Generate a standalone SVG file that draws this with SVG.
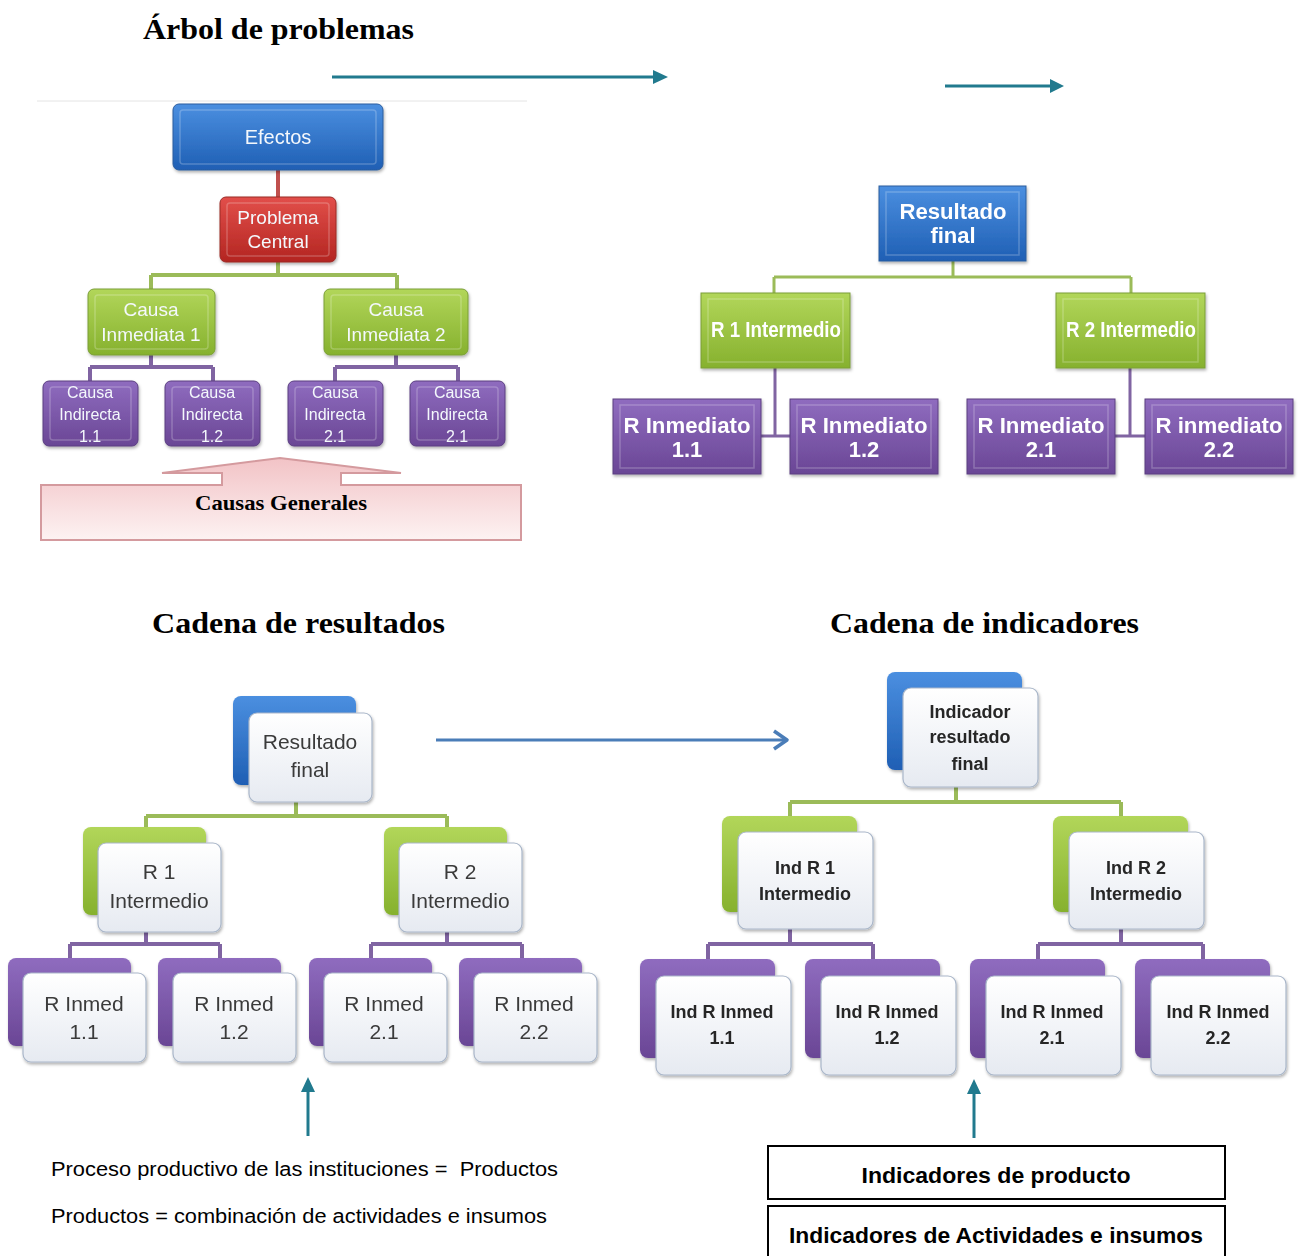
<svg xmlns="http://www.w3.org/2000/svg" width="1299" height="1256" viewBox="0 0 1299 1256">
<style>
.title{font-family:"Liberation Serif","Times New Roman",serif;font-weight:bold;font-size:30px;fill:#000}
.tl{font-family:"Liberation Sans",Arial,sans-serif;fill:#f4f8fc;text-anchor:middle}
.tr{font-family:"Liberation Sans",Arial,sans-serif;font-weight:bold;fill:#ffffff;text-anchor:middle;font-size:22px}
.bl{font-family:"Liberation Sans",Arial,sans-serif;fill:#3a3a3a;text-anchor:middle;font-size:21px}
.br{font-family:"Liberation Sans",Arial,sans-serif;font-weight:bold;fill:#262626;text-anchor:middle;font-size:18px}
.body{font-family:"Liberation Sans",Arial,sans-serif;fill:#000;font-size:20px}
.boxt{font-family:"Liberation Sans",Arial,sans-serif;font-weight:bold;fill:#000;font-size:22px;text-anchor:middle}
.bev{fill:none;stroke:#ffffff;stroke-opacity:0.22;stroke-width:1.5}
.front{fill:url(#gWhite);stroke:#a9b6c9;stroke-width:1.2}
.teal{stroke:#217a8e;stroke-width:3;fill:none}
.conG{stroke:#9bbb59;stroke-width:4;fill:none}
.conP{stroke:#8064a2;stroke-width:4;fill:none}
.conR{stroke:#c0504d;stroke-width:4;fill:none}
</style>
<defs>
<linearGradient id="gBlue" x1="0" y1="0" x2="0" y2="1"><stop offset="0" stop-color="#4b8fe0"/><stop offset="1" stop-color="#1f5fb4"/></linearGradient>
<linearGradient id="gRed" x1="0" y1="0" x2="0" y2="1"><stop offset="0" stop-color="#e24f4a"/><stop offset="1" stop-color="#b32521"/></linearGradient>
<linearGradient id="gGreen" x1="0" y1="0" x2="0" y2="1"><stop offset="0" stop-color="#b2d65a"/><stop offset="1" stop-color="#86b12e"/></linearGradient>
<linearGradient id="gPurple" x1="0" y1="0" x2="0" y2="1"><stop offset="0" stop-color="#8f6cbf"/><stop offset="1" stop-color="#6a4695"/></linearGradient>
<linearGradient id="gPink" x1="0" y1="0" x2="0" y2="1"><stop offset="0" stop-color="#f2c3c6"/><stop offset="1" stop-color="#fdf2f2"/></linearGradient>
<linearGradient id="gWhite" x1="0" y1="0" x2="0" y2="1"><stop offset="0" stop-color="#ffffff"/><stop offset="1" stop-color="#e6eaf1"/></linearGradient>
<filter id="sh" x="-10%" y="-10%" width="130%" height="130%"><feDropShadow dx="1" dy="2" stdDeviation="1.5" flood-color="#000" flood-opacity="0.3"/></filter>
</defs>
<rect width="1299" height="1256" fill="#ffffff"/>

<!-- titles -->
<text class="title" x="143" y="39" textLength="271" lengthAdjust="spacingAndGlyphs">Árbol de problemas</text>
<text class="title" x="152" y="633" textLength="293" lengthAdjust="spacingAndGlyphs">Cadena de resultados</text>
<text class="title" x="830" y="633" textLength="309" lengthAdjust="spacingAndGlyphs">Cadena de indicadores</text>
<line x1="37" y1="101" x2="527" y2="101" stroke="#e4e4e4" stroke-width="1"/>

<!-- connectors -->
<g id="connectors">
<path class="conR" d="M278 170V197"/>
<path class="conG" d="M278 262V275M151 275H397M151 275V289M397 275V289"/>
<path class="conP" d="M151 355V367M90 367H213M90 367V381M213 367V381M396 355V367M335 367H458M335 367V381M458 367V381"/>
<path class="conG" style="stroke-width:3" d="M953 261V277M774 277H1131M774 277V293M1131 277V293"/>
<path class="conP" style="stroke-width:3" d="M775 368V436M760 436H790M1130 368V436M1115 436H1145"/>
<path class="conG" d="M296 802V816M146 816H447M146 816V827M447 816V827"/>
<path class="conP" d="M146 932V944M70 944H220M70 944V958M220 944V958M447 932V944M371 944H522M371 944V958M522 944V958"/>
<path class="conG" d="M956 787V802M790 802H1121M790 802V816M1121 802V816"/>
<path class="conP" d="M790 929V944M708 944H873M708 944V959M873 944V959M1121 929V944M1038 944H1203M1038 944V959M1203 944V959"/>
<!-- arrows -->
<path class="teal" d="M332 77H656"/><path d="M653 70L668 77L653 84Z" fill="#217a8e"/>
<path class="teal" d="M945 86H1052"/><path d="M1050 79L1064 86L1050 93Z" fill="#217a8e"/>
<path class="teal" d="M308 1136V1090"/><path d="M301 1092L308 1077L315 1092Z" fill="#217a8e"/>
<path class="teal" d="M974 1138V1092"/><path d="M967 1094L974 1079L981 1094Z" fill="#217a8e"/>
<path d="M436 740H786" stroke="#4a7db8" stroke-width="3" fill="none"/>
<path d="M774 731L787 740L774 749" stroke="#4a7db8" stroke-width="3.5" fill="none" stroke-linejoin="round"/>
</g>

<!-- Árbol de problemas -->
<g id="efectos" filter="url(#sh)">
<rect x="173" y="104" width="210" height="66" rx="6" fill="url(#gBlue)" stroke="#2b5d9e"/>
<rect x="180" y="110" width="196" height="54" rx="3" class="bev"/>
<text class="tl" x="278" y="144" font-size="20">Efectos</text>
</g>
<g id="problema" filter="url(#sh)">
<rect x="220" y="197" width="116" height="65" rx="6" fill="url(#gRed)" stroke="#9a2a27"/>
<rect x="227" y="203" width="102" height="53" rx="3" class="bev"/>
<text class="tl" x="278" y="224" font-size="19">Problema</text>
<text class="tl" x="278" y="248" font-size="19">Central</text>
</g>
<g id="ci1" filter="url(#sh)">
<rect x="88" y="289" width="127" height="66" rx="6" fill="url(#gGreen)" stroke="#7a9e37"/>
<rect x="95" y="295" width="113" height="54" rx="3" class="bev"/>
<text class="tl" x="151" y="316" font-size="19">Causa</text>
<text class="tl" x="151" y="341" font-size="19">Inmediata 1</text>
</g>
<g id="ci2" filter="url(#sh)">
<rect x="324" y="289" width="144" height="66" rx="6" fill="url(#gGreen)" stroke="#7a9e37"/>
<rect x="331" y="295" width="130" height="54" rx="3" class="bev"/>
<text class="tl" x="396" y="316" font-size="19">Causa</text>
<text class="tl" x="396" y="341" font-size="19">Inmediata 2</text>
</g>
<g id="cind11" filter="url(#sh)">
<rect x="43" y="381" width="95" height="65" rx="6" fill="url(#gPurple)" stroke="#5a3e80"/>
<rect x="50" y="387" width="81" height="53" rx="3" class="bev"/>
<text class="tl" x="90" y="398" font-size="16">Causa</text>
<text class="tl" x="90" y="420" font-size="16">Indirecta</text>
<text class="tl" x="90" y="442" font-size="16">1.1</text>
</g>
<g id="cind12" filter="url(#sh)">
<rect x="165" y="381" width="95" height="65" rx="6" fill="url(#gPurple)" stroke="#5a3e80"/>
<rect x="172" y="387" width="81" height="53" rx="3" class="bev"/>
<text class="tl" x="212" y="398" font-size="16">Causa</text>
<text class="tl" x="212" y="420" font-size="16">Indirecta</text>
<text class="tl" x="212" y="442" font-size="16">1.2</text>
</g>
<g id="cind21" filter="url(#sh)">
<rect x="288" y="381" width="95" height="65" rx="6" fill="url(#gPurple)" stroke="#5a3e80"/>
<rect x="295" y="387" width="81" height="53" rx="3" class="bev"/>
<text class="tl" x="335" y="398" font-size="16">Causa</text>
<text class="tl" x="335" y="420" font-size="16">Indirecta</text>
<text class="tl" x="335" y="442" font-size="16">2.1</text>
</g>
<g id="cind21b" filter="url(#sh)">
<rect x="410" y="381" width="95" height="65" rx="6" fill="url(#gPurple)" stroke="#5a3e80"/>
<rect x="417" y="387" width="81" height="53" rx="3" class="bev"/>
<text class="tl" x="457" y="398" font-size="16">Causa</text>
<text class="tl" x="457" y="420" font-size="16">Indirecta</text>
<text class="tl" x="457" y="442" font-size="16">2.1</text>
</g>
<g id="causas-generales">
<path d="M41 485H222V473H162L280 458L401 473H341V485H521V540H41Z" fill="url(#gPink)" stroke="#d49a9e" stroke-width="2"/>
<text x="195" y="510" textLength="172" lengthAdjust="spacingAndGlyphs" font-family="Liberation Serif, Times New Roman, serif" font-weight="bold" font-size="21">Causas Generales</text>
</g>

<!-- top right tree -->
<g id="tr-final" filter="url(#sh)">
<rect x="879" y="186" width="147" height="75" fill="url(#gBlue)" stroke="#2b5d9e"/>
<rect x="886" y="192" width="133" height="63" class="bev"/>
<text class="tr" x="953" y="219" textLength="107" lengthAdjust="spacingAndGlyphs">Resultado</text>
<text class="tr" x="953" y="243">final</text>
</g>
<g id="tr-r1" filter="url(#sh)">
<rect x="701" y="293" width="149" height="75" fill="url(#gGreen)" stroke="#7a9e37"/>
<rect x="708" y="299" width="135" height="63" class="bev"/>
<text class="tr" x="776" y="337" font-size="20" textLength="130" lengthAdjust="spacingAndGlyphs">R 1 Intermedio</text>
</g>
<g id="tr-r2" filter="url(#sh)">
<rect x="1056" y="293" width="149" height="75" fill="url(#gGreen)" stroke="#7a9e37"/>
<rect x="1063" y="299" width="135" height="63" class="bev"/>
<text class="tr" x="1131" y="337" font-size="20" textLength="130" lengthAdjust="spacingAndGlyphs">R 2 Intermedio</text>
</g>
<g id="tr-ri11" filter="url(#sh)">
<rect x="613" y="399" width="148" height="75" fill="url(#gPurple)" stroke="#5a3e80"/>
<rect x="620" y="405" width="134" height="63" class="bev"/>
<text class="tr" x="687" y="433" textLength="127" lengthAdjust="spacingAndGlyphs">R Inmediato</text>
<text class="tr" x="687" y="457">1.1</text>
</g>
<g id="tr-ri12" filter="url(#sh)">
<rect x="790" y="399" width="148" height="75" fill="url(#gPurple)" stroke="#5a3e80"/>
<rect x="797" y="405" width="134" height="63" class="bev"/>
<text class="tr" x="864" y="433" textLength="127" lengthAdjust="spacingAndGlyphs">R Inmediato</text>
<text class="tr" x="864" y="457">1.2</text>
</g>
<g id="tr-ri21" filter="url(#sh)">
<rect x="967" y="399" width="148" height="75" fill="url(#gPurple)" stroke="#5a3e80"/>
<rect x="974" y="405" width="134" height="63" class="bev"/>
<text class="tr" x="1041" y="433" textLength="127" lengthAdjust="spacingAndGlyphs">R Inmediato</text>
<text class="tr" x="1041" y="457">2.1</text>
</g>
<g id="tr-ri22" filter="url(#sh)">
<rect x="1145" y="399" width="148" height="75" fill="url(#gPurple)" stroke="#5a3e80"/>
<rect x="1152" y="405" width="134" height="63" class="bev"/>
<text class="tr" x="1219" y="433" textLength="127" lengthAdjust="spacingAndGlyphs">R inmediato</text>
<text class="tr" x="1219" y="457">2.2</text>
</g>

<!-- Cadena de resultados -->
<g id="cr-final" filter="url(#sh)">
<rect x="233" y="696" width="123" height="89" rx="8" fill="url(#gBlue)"/>
<rect x="249" y="713" width="123" height="89" rx="8" class="front"/>
<text class="bl" x="310" y="749">Resultado</text>
<text class="bl" x="310" y="777">final</text>
</g>
<g id="cr-r1" filter="url(#sh)">
<rect x="83" y="827" width="123" height="88" rx="8" fill="url(#gGreen)"/>
<rect x="98" y="843" width="123" height="89" rx="8" class="front"/>
<text class="bl" x="159" y="879">R 1</text>
<text class="bl" x="159" y="908">Intermedio</text>
</g>
<g id="cr-r2" filter="url(#sh)">
<rect x="384" y="827" width="123" height="88" rx="8" fill="url(#gGreen)"/>
<rect x="399" y="843" width="123" height="89" rx="8" class="front"/>
<text class="bl" x="460" y="879">R 2</text>
<text class="bl" x="460" y="908">Intermedio</text>
</g>
<g id="cr-ri11" filter="url(#sh)">
<rect x="8" y="958" width="123" height="88" rx="8" fill="url(#gPurple)"/>
<rect x="23" y="973" width="123" height="89" rx="8" class="front"/>
<text class="bl" x="84" y="1011">R Inmed</text>
<text class="bl" x="84" y="1039">1.1</text>
</g>
<g id="cr-ri12" filter="url(#sh)">
<rect x="158" y="958" width="123" height="88" rx="8" fill="url(#gPurple)"/>
<rect x="173" y="973" width="123" height="89" rx="8" class="front"/>
<text class="bl" x="234" y="1011">R Inmed</text>
<text class="bl" x="234" y="1039">1.2</text>
</g>
<g id="cr-ri21" filter="url(#sh)">
<rect x="309" y="958" width="123" height="88" rx="8" fill="url(#gPurple)"/>
<rect x="324" y="973" width="123" height="89" rx="8" class="front"/>
<text class="bl" x="384" y="1011">R Inmed</text>
<text class="bl" x="384" y="1039">2.1</text>
</g>
<g id="cr-ri22" filter="url(#sh)">
<rect x="459" y="958" width="123" height="88" rx="8" fill="url(#gPurple)"/>
<rect x="474" y="973" width="123" height="89" rx="8" class="front"/>
<text class="bl" x="534" y="1011">R Inmed</text>
<text class="bl" x="534" y="1039">2.2</text>
</g>

<!-- Cadena de indicadores -->
<g id="ci-final" filter="url(#sh)">
<rect x="887" y="672" width="135" height="98" rx="8" fill="url(#gBlue)"/>
<rect x="903" y="688" width="135" height="99" rx="8" class="front"/>
<text class="br" x="970" y="718">Indicador</text>
<text class="br" x="970" y="743">resultado</text>
<text class="br" x="970" y="770">final</text>
</g>
<g id="ci-r1" filter="url(#sh)">
<rect x="722" y="816" width="135" height="96" rx="8" fill="url(#gGreen)"/>
<rect x="738" y="832" width="135" height="97" rx="8" class="front"/>
<text class="br" x="805" y="874">Ind R 1</text>
<text class="br" x="805" y="900">Intermedio</text>
</g>
<g id="ci-r2" filter="url(#sh)">
<rect x="1053" y="816" width="135" height="96" rx="8" fill="url(#gGreen)"/>
<rect x="1069" y="832" width="135" height="97" rx="8" class="front"/>
<text class="br" x="1136" y="874">Ind R 2</text>
<text class="br" x="1136" y="900">Intermedio</text>
</g>
<g id="ci-ri11" filter="url(#sh)">
<rect x="640" y="959" width="135" height="99" rx="8" fill="url(#gPurple)"/>
<rect x="656" y="976" width="135" height="99" rx="8" class="front"/>
<text class="br" x="722" y="1018">Ind R Inmed</text>
<text class="br" x="722" y="1044">1.1</text>
</g>
<g id="ci-ri12" filter="url(#sh)">
<rect x="805" y="959" width="135" height="99" rx="8" fill="url(#gPurple)"/>
<rect x="821" y="976" width="135" height="99" rx="8" class="front"/>
<text class="br" x="887" y="1018">Ind R Inmed</text>
<text class="br" x="887" y="1044">1.2</text>
</g>
<g id="ci-ri21" filter="url(#sh)">
<rect x="970" y="959" width="135" height="99" rx="8" fill="url(#gPurple)"/>
<rect x="986" y="976" width="135" height="99" rx="8" class="front"/>
<text class="br" x="1052" y="1018">Ind R Inmed</text>
<text class="br" x="1052" y="1044">2.1</text>
</g>
<g id="ci-ri22" filter="url(#sh)">
<rect x="1135" y="959" width="135" height="99" rx="8" fill="url(#gPurple)"/>
<rect x="1151" y="976" width="135" height="99" rx="8" class="front"/>
<text class="br" x="1218" y="1018">Ind R Inmed</text>
<text class="br" x="1218" y="1044">2.2</text>
</g>

<!-- bottom texts -->
<text class="body" x="51" y="1176" textLength="507" lengthAdjust="spacingAndGlyphs" xml:space="preserve">Proceso productivo de las instituciones =  Productos</text>
<text class="body" x="51" y="1223" textLength="496" lengthAdjust="spacingAndGlyphs">Productos = combinación de actividades e insumos</text>
<g id="ind-producto">
<rect x="768" y="1146" width="457" height="53" fill="#fff" stroke="#000" stroke-width="2"/>
<text class="boxt" x="996" y="1183" textLength="269" lengthAdjust="spacingAndGlyphs">Indicadores de producto</text>
</g>
<g id="ind-actividades">
<rect x="768" y="1206" width="457" height="60" fill="#fff" stroke="#000" stroke-width="2"/>
<text class="boxt" x="996" y="1243" textLength="414" lengthAdjust="spacingAndGlyphs">Indicadores de Actividades e insumos</text>
</g>
</svg>
